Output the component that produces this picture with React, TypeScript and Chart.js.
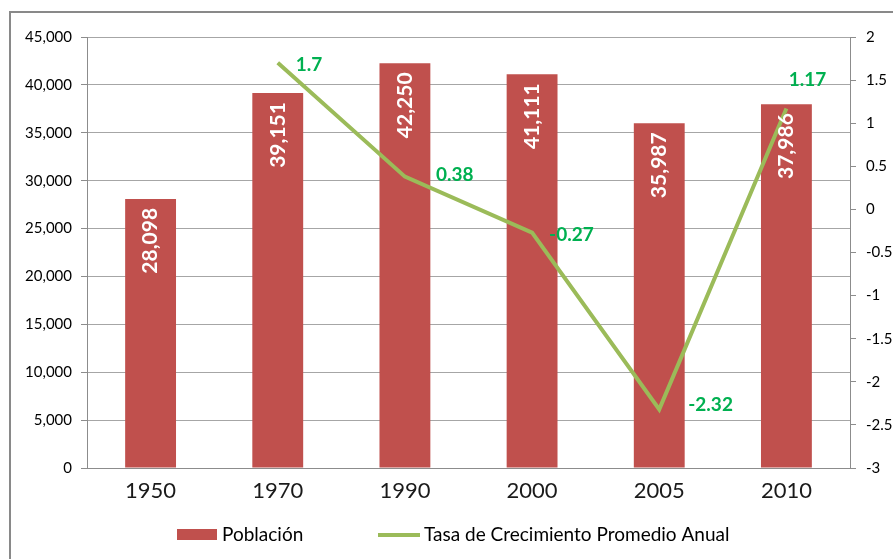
import React, { useEffect, useRef } from "react";
import { Chart, registerables } from "chart.js";

Chart.register(...registerables);

const categories = ["1950", "1970", "1990", "2000", "2005", "2010"];
const poblacion = [28098, 39151, 42250, 41111, 35987, 37986];
const tasa: (number | null)[] = [null, 1.7, 0.38, -0.27, -2.32, 1.17];
const leftTicks = { min: 0, max: 45000, step: 5000 };
const rightTicks = { min: -3, max: 2, step: 0.5 };
const seriesNames = ["Población", "Tasa de Crecimiento Promedio Anual"];

const FONT = "Lato, 'Open Sans', sans-serif";
const BAR_COLOR = "#C0504D";
const LINE_COLOR = "#9BBB59";
const LABEL_GREEN = "#00B050";
const GRID = "#A6A6A6";
const AXIS = "#8C8C8C";

// label offsets relative to the point (dx to text start, dy to text centre)
const lineLabelOffsets: [number, number, "left" | "center"][] = [
  [18, 0, "left"],
  [18, 2, "left"],
  [31, -2, "left"],
  [17, 2, "left"],
  [29, -5, "left"],
  [21, -29, "center"],
];

const labelPlugin = {
  id: "customLabels",
  afterDatasetsDraw(chart: any) {
    const ctx = chart.ctx;
    ctx.save();
    // bar labels
    const barMeta = chart.getDatasetMeta(0);
    ctx.font = `bold 21px ${FONT}`;
    ctx.fillStyle = "#FFFFFF";
    ctx.textAlign = "right";
    ctx.textBaseline = "middle";
    barMeta.data.forEach((el: any, i: number) => {
      const v = poblacion[i];
      ctx.save();
      ctx.translate(el.x, el.y + 9);
      ctx.rotate(-Math.PI / 2);
      ctx.fillText(v.toLocaleString("en-US"), 0, 0);
      ctx.restore();
    });
    // line labels
    const lineMeta = chart.getDatasetMeta(1);
    ctx.font = `bold 19px ${FONT}`;
    ctx.fillStyle = LABEL_GREEN;
    lineMeta.data.forEach((el: any, i: number) => {
      const v = tasa[i];
      if (v === null || v === undefined) return;
      const [dx, dy, align] = lineLabelOffsets[i];
      ctx.textAlign = align;
      ctx.textBaseline = "middle";
      ctx.fillText(String(v), el.x + dx, el.y + dy);
    });
    ctx.restore();
  },
  afterDraw(chart: any) {
    const ctx = chart.ctx;
    ctx.save();
    // legend
    const ly = 535;
    ctx.fillStyle = BAR_COLOR;
    ctx.fillRect(177, ly - 6, 40, 11);
    ctx.font = `19px ${FONT}`;
    ctx.fillStyle = "#000000";
    ctx.textAlign = "left";
    ctx.textBaseline = "middle";
    ctx.fillText(seriesNames[0], 222, ly);
    ctx.strokeStyle = LINE_COLOR;
    ctx.lineWidth = 4;
    ctx.beginPath();
    ctx.moveTo(378, ly);
    ctx.lineTo(420, ly);
    ctx.stroke();
    ctx.fillText(seriesNames[1], 424, ly);
    // outer border
    ctx.strokeStyle = "#898989";
    ctx.lineWidth = 2;
    ctx.strokeRect(10, 12, 1000, 1000);
    ctx.restore();
  },
};

export default function App() {
  const ref = useRef<HTMLCanvasElement>(null);
  useEffect(() => {
    document.body.style.margin = "0";
    const canvas = ref.current!;
    const chart = new Chart(canvas, {
      type: "bar",
      data: {
        labels: categories,
        datasets: [
          {
            type: "bar",
            label: seriesNames[0],
            data: poblacion,
            backgroundColor: BAR_COLOR,
            barPercentage: 0.4,
            categoryPercentage: 1,
            yAxisID: "y",
            order: 1,
          },
          {
            type: "line",
            label: seriesNames[1],
            data: tasa,
            borderColor: LINE_COLOR,
            backgroundColor: LINE_COLOR,
            borderWidth: 4,
            pointRadius: 0,
            tension: 0,
            yAxisID: "y1",
            order: 0,
          } as any,
        ],
      },
      options: {
        responsive: false,
        animation: false,
        layout: { padding: { left: 0, right: 0, top: 37, bottom: 0 } },
        plugins: {
          legend: { display: false },
          tooltip: { enabled: false },
          title: { display: false },
        },
        scales: {
          x: {
            offset: true,
            grid: { display: true, drawOnChartArea: false, drawTicks: false },
            border: { display: true, color: AXIS, width: 1 },
            ticks: {
              font: { family: FONT, size: 22 },
              color: "#1A1A1A",
              padding: 10,
              maxRotation: 0,
            },
            afterFit(scale: any) {
              scale.height = 91;
            },
          },
          y: {
            position: "left",
            min: leftTicks.min,
            max: leftTicks.max,
            ticks: {
              stepSize: leftTicks.step,
              font: { family: FONT, size: 15 },
              color: "#000000",
              padding: 9,
              callback: (v: any) => Number(v).toLocaleString("en-US"),
            },
            grid: { color: GRID, lineWidth: 1, tickLength: 6, tickColor: AXIS },
            border: { display: true, color: AXIS, width: 1 },
            afterFit(scale: any) {
              scale.width = 87;
            },
          },
          y1: {
            position: "right",
            min: rightTicks.min,
            max: rightTicks.max,
            ticks: {
              stepSize: rightTicks.step,
              font: { family: FONT, size: 15 },
              color: "#000000",
              padding: 10,
              callback: (v: any) => String(Math.round(Number(v) * 10) / 10),
            },
            grid: { drawOnChartArea: false, tickLength: 6, color: AXIS },
            border: { display: true, color: AXIS, width: 1 },
            afterFit(scale: any) {
              scale.width = 43;
            },
          },
        },
      },
      plugins: [labelPlugin],
    });
    return () => chart.destroy();
  }, []);
  return (
    <div style={{ width: 893, height: 559, background: "#fff" }}>
      <canvas ref={ref} width={893} height={559} style={{ display: "block" }} />
    </div>
  );
}
